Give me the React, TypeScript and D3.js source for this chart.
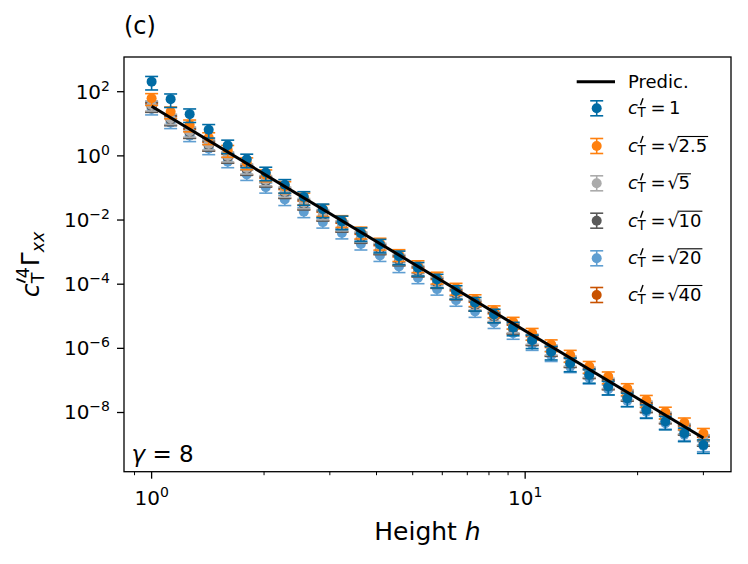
import React from "react";
import * as d3 from "d3";

// Heights h (log-spaced from 1 to 30)
const heights = [1, 1.1244, 1.2643, 1.4217, 1.5986, 1.7975, 2.0211, 2.2726, 2.5555, 2.8735, 3.231, 3.6331, 4.0852, 4.5935, 5.165, 5.8077, 6.5303, 7.3426, 8.2565, 9.2842, 10.439, 11.739, 13.2, 14.841, 16.689, 18.766, 21.1, 23.726, 26.678, 30.0];

// c'_T = 1
const gammaC1 = [206, 58.6, 20.0, 6.52, 2.13, 0.779, 0.305, 0.1255, 0.0527, 0.02165, 0.0091, 0.00391, 0.00172, 7.41e-4, 3.26e-4, 1.4e-4, 6.17e-5, 2.65e-5, 1.14e-5, 4.47e-6, 1.79e-6, 7.9e-7, 3.4e-7, 1.49e-7, 6.43e-8, 2.76e-8, 1.19e-8, 5.23e-9, 2.25e-9, 9.67e-10];
// c'_T = sqrt(2.5)
const gammaC2 = [62.2, 23.8, 9.35, 3.75, 1.507, 0.619, 0.26, 0.1118, 0.0492, 0.02165, 0.00975, 0.00429, 0.00193, 8.5e-4, 3.83e-4, 1.684e-4, 7.59e-5, 3.34e-5, 1.503e-5, 6.61e-6, 2.98e-6, 1.31e-6, 6.18e-7, 2.78e-7, 1.312e-7, 5.64e-8, 2.43e-8, 1.043e-8, 4.81e-9, 2.27e-9];
// c'_T = sqrt(5)
const gammaC3 = [38.4, 14.7, 5.9, 2.37, 0.995, 0.418, 0.18, 0.0792, 0.0348, 0.01569, 0.00706, 0.00318, 0.0014, 6.3e-4, 2.84e-4, 1.249e-4, 5.5e-5, 2.42e-5, 1.064e-5, 4.68e-6, 2.06e-6, 9.5e-7, 4.28e-7, 1.925e-7, 8.67e-8, 3.81e-8, 1.68e-8, 7.56e-9, 3.33e-9, 1.5e-9];
// c'_T = sqrt(10)
const gammaC4 = [35.0, 13.4, 5.38, 2.16, 0.907, 0.381, 0.164, 0.0722, 0.0317, 0.0143, 0.00644, 0.0029, 0.00128, 5.74e-4, 2.59e-4, 1.14e-4, 5.02e-5, 2.21e-5, 9.7e-6, 4.27e-6, 1.88e-6, 8.66e-7, 3.9e-7, 1.76e-7, 7.91e-8, 3.47e-8, 1.53e-8, 6.89e-9, 3.04e-9, 1.37e-9];
// c'_T = sqrt(20)
const gammaC5 = [29.1, 10.9, 4.28, 1.677, 0.658, 0.264, 0.106, 0.0435, 0.01828, 0.00862, 0.00397, 0.00179, 7.87e-4, 3.54e-4, 1.596e-4, 7.02e-5, 3.16e-5, 1.424e-5, 6.41e-6, 2.95e-6, 1.33e-6, 5.99e-7, 2.7e-7, 1.187e-7, 5.35e-8, 2.35e-8, 1.06e-8, 4.66e-9, 2.05e-9, 9.24e-10];
// c'_T = sqrt(40)
const gammaC6 = [33.5, 12.8, 5.1, 2.06, 0.86, 0.362, 0.156, 0.0686, 0.0301, 0.0136, 0.00612, 0.00276, 0.00122, 5.45e-4, 2.46e-4, 1.08e-4, 4.77e-5, 2.1e-5, 9.2e-6, 4.06e-6, 1.79e-6, 8.2e-7, 3.7e-7, 1.67e-7, 7.5e-8, 3.3e-8, 1.45e-8, 6.5e-9, 2.9e-9, 1.3e-9];

// relative error bar size per series
const relErr = [0.45, 0.4, 0.35, 0.35, 0.35, 0.3];

// prediction line endpoints
const predH = [1, 30];
const predVal = [35, 1.6e-9];

const seriesValues = [gammaC1, gammaC2, gammaC3, gammaC4, gammaC5, gammaC6];
const seriesRadicand = ["1", "2.5", "5", "10", "20", "40"];
const seriesSqrt = [false, true, true, true, true, true];
const seriesColors = ["#006BA4", "#FF800E", "#ABABAB", "#595959", "#5F9ED1", "#C85200"];

const xMajor = [1, 10];
const xMinor = [0.9, 2, 3, 4, 5, 6, 7, 8, 9, 20, 30];
const yMajorExp = [2, 0, -2, -4, -6, -8];

const FONT = "DejaVu Sans, Liberation Sans, sans-serif";

const L = 124, R = 731, T = 57, B = 471.7;

function textW(s: string, fs: number) {
  let w = 0;
  for (const ch of s) w += (ch === "." ? 0.318 : 0.636) * fs;
  return w;
}

export default function App() {
  const x = d3.scaleLog().domain([0.8435, 35.566]).range([L, R]);
  const y = d3.scaleLog().domain([Math.pow(10, -9.845), Math.pow(10, 3.082)]).range([B, T]);
  const line = d3.line<[number, number]>().x(d => x(d[0])).y(d => y(d[1]));
  const predPts: [number, number][] = predH.map((h, i) => [h, predVal[i]]);

  const capHalf = 6.5;
  const r = 5;
  const order = [5, 4, 3, 2, 1, 0];

  const legX = 628;
  const legMarkX = 596.7;
  const legRows = [108.3, 146, 183.3, 220.7, 258.3, 295];
  const lfs = 18;
  const tfs = 20;

  const ylx0 = -33; // start of y label along rotated baseline

  return (
    <svg width={748} height={564} style={{ position: "absolute", left: 0, top: 0, background: "#fff" }} fontFamily={FONT}>
      <rect x={0} y={0} width={748} height={564} fill="#fff" />
      {/* data */}
      {order.map(s => {
        const vals = seriesValues[s];
        const c = seriesColors[s];
        const e = relErr[s];
        return (
          <g key={s}>
            {vals.map((v, i) => {
              const cx = x(heights[i]);
              const y1 = y(v * (1 + e));
              const y0 = y(v * (1 - e));
              return (
                <g key={i}>
                  <line x1={cx} x2={cx} y1={y0} y2={y1} stroke={c} strokeWidth={1.6} />
                  <line x1={cx - capHalf} x2={cx + capHalf} y1={y0} y2={y0} stroke={c} strokeWidth={1.6} />
                  <line x1={cx - capHalf} x2={cx + capHalf} y1={y1} y2={y1} stroke={c} strokeWidth={1.6} />
                  <circle cx={cx} cy={y(v)} r={r} fill={c} />
                </g>
              );
            })}
          </g>
        );
      })}
      <path d={line(predPts) || ""} stroke="#000" strokeWidth={3} fill="none" />

      {/* spines */}
      <rect x={L} y={T} width={R - L} height={B - T} fill="none" stroke="#000" strokeWidth={1.3} />

      {/* x ticks */}
      {xMajor.map(v => (
        <g key={"xM" + v}>
          <line x1={x(v)} x2={x(v)} y1={B} y2={B + 7} stroke="#000" strokeWidth={1.3} />
          <text x={x(v)} y={B + 33} textAnchor="middle" fontSize={tfs}>
            10<tspan fontSize={14} dy={-8}>{v === 1 ? "0" : "1"}</tspan>
          </text>
        </g>
      ))}
      {xMinor.map(v => (
        <line key={"xm" + v} x1={x(v)} x2={x(v)} y1={B} y2={B + 3.5} stroke="#000" strokeWidth={1} />
      ))}
      {/* y ticks */}
      {yMajorExp.map(ex => {
        const yy = y(Math.pow(10, ex));
        const lab = ex < 0 ? "\u2212" + Math.abs(ex) : String(ex);
        return (
          <g key={"y" + ex}>
            <line x1={L - 7} x2={L} y1={yy} y2={yy} stroke="#000" strokeWidth={1.3} />
            <text x={110} y={yy + 6.8} textAnchor="end" fontSize={tfs}>
              10<tspan fontSize={14} dy={-8}>{lab}</tspan>
            </text>
          </g>
        );
      })}

      {/* title & annotations */}
      <text x={124} y={34} fontSize={24}>(c)</text>
      <text x={131.5} y={461.5} fontSize={23}>
        <tspan fontStyle="italic">γ</tspan> = 8
      </text>
      <text x={(L + R) / 2} y={540} fontSize={25} textAnchor="middle">
        Height <tspan fontStyle="italic">h</tspan>
      </text>
      <g transform={`translate(38.5, ${(T + B) / 2}) rotate(-90)`}>
        <text fontSize={25}>
          <tspan x={ylx0} y={0} fontStyle="italic">c</tspan>
          <tspan x={ylx0 + 19} y={-10} fontSize={17.5}>4</tspan>
          <tspan x={ylx0 + 14} y={5} fontSize={17.5}>T</tspan>
          <tspan x={ylx0 + 31} y={0}>Γ</tspan>
          <tspan x={ylx0 + 45} y={5} fontSize={17.5} fontStyle="italic">xx</tspan>
        </text>
        <line x1={ylx0 + 18.5} y1={-22} x2={ylx0 + 15} y2={-13} stroke="#000" strokeWidth={1.8} />
      </g>

      {/* legend */}
      <line x1={576.7} x2={615} y1={81.7} y2={81.7} stroke="#000" strokeWidth={3} />
      <text x={legX} y={88} fontSize={lfs}>Predic.</text>
      {seriesColors.map((c, k) => {
        const cy = legRows[k];
        const rad = seriesRadicand[k];
        const base = cy + 6;
        const rw = textW(rad, lfs);
        return (
          <g key={"leg" + k}>
            <line x1={legMarkX} x2={legMarkX} y1={cy - 7.5} y2={cy + 7.5} stroke={c} strokeWidth={1.6} />
            <line x1={legMarkX - capHalf} x2={legMarkX + capHalf} y1={cy - 7.5} y2={cy - 7.5} stroke={c} strokeWidth={1.6} />
            <line x1={legMarkX - capHalf} x2={legMarkX + capHalf} y1={cy + 7.5} y2={cy + 7.5} stroke={c} strokeWidth={1.6} />
            <circle cx={legMarkX} cy={cy} r={r} fill={c} />
            <text fontSize={lfs}>
              <tspan x={legX} y={base} fontStyle="italic">c</tspan>
              <tspan x={legX + 9.5} y={base + 3} fontSize={13.5}>T</tspan>
              <tspan x={legX + 22.5} y={base}>=</tspan>
              {seriesSqrt[k] ? (
                <>
                  <tspan x={legX + 39.5} y={base}>√</tspan>
                  <tspan x={legX + 50.5} y={base}>{rad}</tspan>
                </>
              ) : (
                <tspan x={legX + 41} y={base}>{rad}</tspan>
              )}
            </text>
            <line x1={legX + 15} y1={base - 16} x2={legX + 12.5} y2={base - 9} stroke="#000" strokeWidth={1.4} />
            {seriesSqrt[k] && (
              <line x1={legX + 49.5} x2={legX + 51.5 + rw} y1={base - 15.5} y2={base - 15.5} stroke="#000" strokeWidth={1.1} />
            )}
          </g>
        );
      })}
    </svg>
  );
}
